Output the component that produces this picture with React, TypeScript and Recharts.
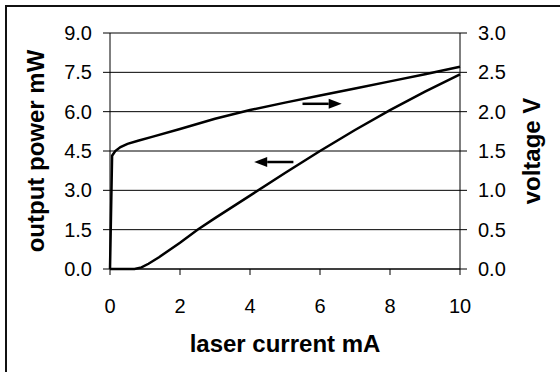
import React from 'react';
import { LineChart, Line, XAxis, YAxis, CartesianGrid, Label, ReferenceLine } from 'recharts';

// laser current (mA) vs optical output power (mW)
const powerCurrent = [0, 0.5, 0.7, 0.9, 1.1, 1.4, 2.0, 2.5, 3, 4, 5, 6, 7, 8, 9, 10];
const powerValues = [0, 0, 0, 0.06, 0.2, 0.45, 1.0, 1.5, 1.94, 2.8, 3.66, 4.5, 5.3, 6.06, 6.76, 7.42];

// laser current (mA) vs forward voltage (V)
const voltCurrent = [0, 0.06, 0.15, 0.3, 0.5, 0.8, 1.2, 2, 3, 4, 5, 6, 7, 8, 9, 10];
const voltValues = [0, 1.44, 1.5, 1.55, 1.59, 1.63, 1.68, 1.78, 1.91, 2.02, 2.115, 2.205, 2.295, 2.385, 2.475, 2.57];

const xTicks = [0, 2, 4, 6, 8, 10];
const powerTicks = [0, 1.5, 3, 4.5, 6, 7.5, 9];
const voltTicks = [0, 0.5, 1, 1.5, 2, 2.5, 3];

// arrows telling which curve belongs to which axis
const voltArrow = [{ x: 5.5, y: 2.1 }, { x: 6.62, y: 2.1 }];
const powerArrow = [{ x: 5.24, y: 4.08 }, { x: 4.12, y: 4.08 }];

const powerData = powerCurrent.map((x, i) => ({ x, y: powerValues[i] }));
const voltData = voltCurrent.map((x, i) => ({ x, y: voltValues[i] }));

const FONT = '"Liberation Sans", Arial, sans-serif';
const tickStyle = { fill: '#000', fontSize: 20, fontFamily: FONT };

const Arrow = (p: any) => {
  const { x1, y1, x2, y2 } = p;
  const dir = Math.sign(x2 - x1);
  const head = 13;
  return (
    <g>
      <line x1={x1} y1={y1} x2={x2 - dir * head} y2={y2} stroke="#000" strokeWidth={2.5} />
      <polygon
        points={`${x2},${y2} ${x2 - dir * head},${y2 - 5} ${x2 - dir * head},${y2 + 5}`}
        fill="#000"
      />
    </g>
  );
};

const sideTitle = (text: string, dx: number) => (props: any) => {
  const vb = props.viewBox;
  const cx = vb.x + dx;
  const cy = vb.y + vb.height / 2;
  return (
    <text
      x={cx}
      y={cy}
      transform={`rotate(-90, ${cx}, ${cy})`}
      textAnchor="middle"
      fontSize={24}
      fontWeight="bold"
      fontFamily={FONT}
      fill="#000"
    >
      {text}
    </text>
  );
};

const bottomTitle = (props: any) => {
  const vb = props.viewBox;
  return (
    <text
      x={vb.x + vb.width / 2}
      y={vb.y + 83}
      textAnchor="middle"
      fontSize={24}
      fontWeight="bold"
      fontFamily={FONT}
      fill="#000"
    >
      laser current mA
    </text>
  );
};

export default function App() {
  return (
    <div
      style={{
        position: 'fixed',
        left: 0,
        top: 0,
        width: 560,
        height: 372,
        overflow: 'hidden',
        background: '#fff',
        fontFamily: FONT,
      }}
    >
      <div
        style={{
          position: 'absolute',
          left: 5,
          top: 5,
          width: 700,
          height: 500,
          borderLeft: '2px solid #111',
          borderTop: '2px solid #111',
        }}
      />
      <LineChart
        width={560}
        height={372}
        margin={{ top: 33, right: 0, left: 0, bottom: 0 }}
        style={{ position: 'absolute', left: 0, top: 0 }}
      >
        <CartesianGrid yAxisId="left" vertical={false} stroke="#000" />
        <XAxis
          dataKey="x"
          type="number"
          domain={[0, 10]}
          ticks={xTicks}
          height={103}
          tickSize={6}
          tickMargin={24}
          tick={tickStyle}
          axisLine={{ stroke: '#000' }}
          tickLine={{ stroke: '#000' }}
        >
          <Label content={bottomTitle} />
        </XAxis>
        <YAxis
          yAxisId="left"
          type="number"
          domain={[0, 9]}
          ticks={powerTicks}
          width={110}
          tickSize={7}
          tickMargin={11}
          tick={tickStyle}
          tickFormatter={(v: number) => v.toFixed(1)}
          axisLine={{ stroke: '#000' }}
          tickLine={{ stroke: '#000' }}
        >
          <Label content={sideTitle('output power mW', 43.5)} />
        </YAxis>
        <YAxis
          yAxisId="right"
          orientation="right"
          type="number"
          domain={[0, 3]}
          ticks={voltTicks}
          width={100}
          tickSize={7}
          tickMargin={11}
          tick={tickStyle}
          tickFormatter={(v: number) => v.toFixed(1)}
          axisLine={{ stroke: '#000' }}
          tickLine={{ stroke: '#000' }}
        >
          <Label content={sideTitle('voltage V', 80)} />
        </YAxis>
        <Line
          yAxisId="left"
          data={powerData}
          dataKey="y"
          type="linear"
          stroke="#000"
          strokeWidth={2.5}
          dot={false}
          isAnimationActive={false}
        />
        <Line
          yAxisId="right"
          data={voltData}
          dataKey="y"
          type="linear"
          stroke="#000"
          strokeWidth={2.5}
          dot={false}
          isAnimationActive={false}
        />
        <ReferenceLine yAxisId="right" segment={voltArrow} shape={Arrow} />
        <ReferenceLine yAxisId="left" segment={powerArrow} shape={Arrow} />
      </LineChart>
    </div>
  );
}
